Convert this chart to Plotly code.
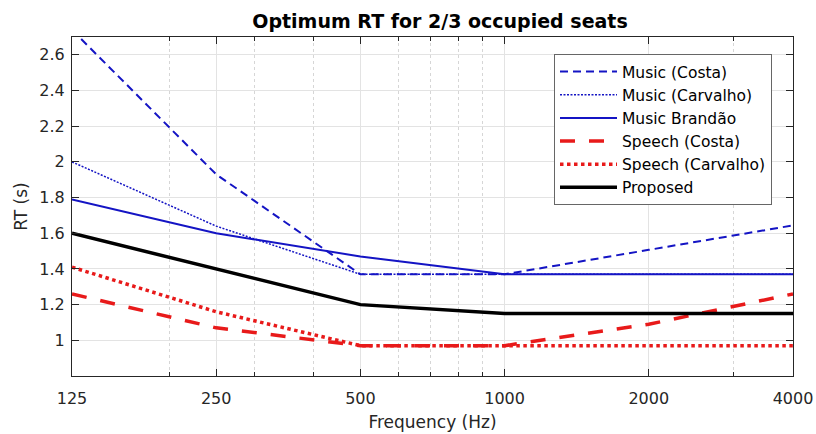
import plotly.graph_objects as go
import math

freqs = [125, 250, 500, 1000, 2000, 4000]
music_costa = [2.74, 1.93, 1.37, 1.37, 1.507, 1.644]
music_carvalho = [2.0, 1.64, 1.37, 1.37, 1.37, 1.37]
music_brandao = [1.79, 1.6, 1.47, 1.37, 1.37, 1.37]
speech_costa = [1.26, 1.07, 0.97, 0.97, 1.09, 1.26]
speech_carvalho = [1.41, 1.16, 0.97, 0.97, 0.97, 0.97]
proposed = [1.6, 1.4, 1.2, 1.15, 1.15, 1.15]

x_ticks = [125, 250, 500, 1000, 2000, 4000]
x_ticktext = ["125", "250", "500", "1000", "2000", "4000"]
x_minor = [200, 300, 400, 600, 700, 800, 900, 3000]
y_ticks = [1, 1.2, 1.4, 1.6, 1.8, 2, 2.2, 2.4, 2.6]
y_ticktext = ["1", "1.2", "1.4", "1.6", "1.8", "2", "2.2", "2.4", "2.6"]

BLUE = "#1414c4"
RED = "#e81a1a"
FONT = "DejaVu Sans"
AX = "#262626"

series = [
    ("Music (Costa)", music_costa, BLUE, 2.0, "8px,5px"),
    ("Music (Carvalho)", music_carvalho, BLUE, 1.5, "2px,1.5px"),
    ("Music Brandão", music_brandao, BLUE, 2.0, "solid"),
    ("Speech (Costa)", speech_costa, RED, 3.5, "15px,14px"),
    ("Speech (Carvalho)", speech_carvalho, RED, 3.5, "3.5px,3.5px"),
    ("Proposed", proposed, "black", 3.5, "solid"),
]

fig = go.Figure()
for name, vals, color, w, dash in series:
    fig.add_trace(go.Scatter(x=freqs, y=vals, mode="lines", name=name,
                             line=dict(color=color, width=w, dash=dash)))

fig.update_layout(
    width=816, height=434,
    margin=dict(l=72, r=23, t=37, b=58, autoexpand=False),
    paper_bgcolor="white", plot_bgcolor="white",
    font=dict(family=FONT, size=16, color=AX),
    title=dict(text="<b>Optimum RT for 2/3 occupied seats</b>",
               x=440 / 816, xanchor="center", y=1 - 21 / 434, yanchor="middle",
               font=dict(family=FONT, size=19, color="black")),
    showlegend=True,
    legend=dict(x=(554 - 72) / 721, y=(376 - 54) / 339, xanchor="left", yanchor="top",
                bgcolor="white", bordercolor="#666666", borderwidth=1,
                font=dict(family=FONT, size=15.5, color="black"),
                itemwidth=57, tracegroupgap=0),
)
fig.update_xaxes(
    type="log", range=[math.log10(125), math.log10(4000)],
    tickvals=x_ticks, ticktext=x_ticktext,
    ticks="inside", ticklen=7, tickcolor=AX,
    showline=True, linecolor=AX, linewidth=1, mirror="ticks",
    showgrid=True, gridcolor="#e3e3e3", gridwidth=1,
    zeroline=False, ticklabelstandoff=8, automargin=False,
    title=dict(text="Frequency (Hz)", standoff=8, font=dict(size=17, color=AX)),
    minor=dict(tickvals=x_minor, ticks="inside", ticklen=4, tickcolor=AX,
               showgrid=True, gridcolor="#d6d6d6", griddash="dot", gridwidth=1),
)
fig.update_yaxes(
    range=[0.8, 2.7], tickvals=y_ticks, ticktext=y_ticktext,
    ticks="inside", ticklen=7, tickcolor=AX,
    showline=True, linecolor=AX, linewidth=1, mirror="ticks",
    showgrid=True, gridcolor="#e3e3e3", gridwidth=1,
    zeroline=False, ticklabelstandoff=3, automargin=False,
    title=dict(text="RT (s)", standoff=7, font=dict(size=17, color=AX)),
)

fig.write_html("out.html", config={"displayModeBar": False},
               post_script="document.body.style.margin='0';")
